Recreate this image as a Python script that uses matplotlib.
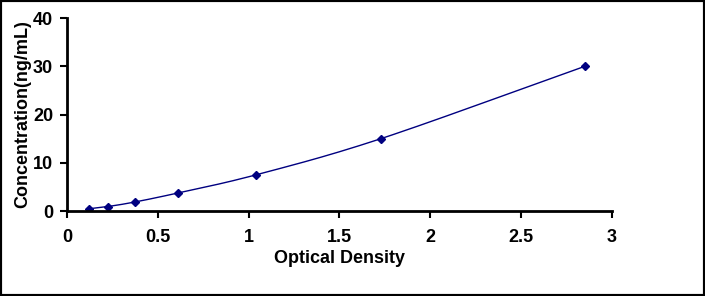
import numpy as np
import matplotlib.pyplot as plt

# Standard curve data
od = [0.121, 0.226, 0.374, 0.611, 1.040, 1.728, 2.851]
conc = [0.47, 0.94, 1.88, 3.75, 7.5, 15, 30]


# Smooth curve through the points (Catmull-Rom, like Excel's smoothed line)
def smooth(x, y, n=30):
    p = np.column_stack([x, y])
    p = np.vstack([2 * p[0] - p[1], p, 2 * p[-1] - p[-2]])
    out = []
    t = np.linspace(0, 1, n)[:, None]
    for i in range(1, len(p) - 2):
        p0, p1, p2, p3 = p[i - 1], p[i], p[i + 1], p[i + 2]
        seg = 0.5 * ((2 * p1) + (-p0 + p2) * t + (2 * p0 - 5 * p1 + 4 * p2 - p3) * t**2
                     + (-p0 + 3 * p1 - 3 * p2 + p3) * t**3)
        out.append(seg)
    out = np.vstack(out)
    return out[:, 0], out[:, 1]


plt.rcParams['font.family'] = ['Liberation Sans', 'DejaVu Sans']
plt.rcParams['font.weight'] = 'bold'

fig = plt.figure(figsize=(7.05, 2.96), dpi=100)
ax = fig.add_axes([0.095, 0.287, 0.773, 0.652])

sx, sy = smooth(od, conc)
ax.plot(sx, sy, color='#000080', linewidth=1)
ax.plot(od, conc, linestyle='none', marker='D', markersize=4.5, color='#000080')

ax.set_xlim(0, 3)
ax.set_ylim(0, 40)
ax.set_xticks([0, 0.5, 1, 1.5, 2, 2.5, 3])
ax.set_xticklabels(['0', '0.5', '1', '1.5', '2', '2.5', '3'])
ax.set_yticks([0, 10, 20, 30, 40])
ax.spines['top'].set_visible(False)
ax.spines['right'].set_visible(False)
ax.spines['left'].set_linewidth(2)
ax.spines['bottom'].set_linewidth(2)
ax.tick_params(direction='out', length=5, width=1.5, labelsize=13, pad=5)
ax.tick_params(axis='x', pad=8)
for lab in ax.get_xticklabels() + ax.get_yticklabels():
    lab.set_fontweight('bold')

ax.set_xlabel('Optical Density', fontsize=13, fontweight='bold', labelpad=3)
ax.set_ylabel('Concentration(ng/mL)', fontsize=13, fontweight='bold', labelpad=1)

# black frame around the whole picture
fig.patches.append(plt.Rectangle((0, 0), 1, 1, transform=fig.transFigure,
                                 fill=False, edgecolor='black', linewidth=3))

fig.savefig('out.png', dpi=100)
